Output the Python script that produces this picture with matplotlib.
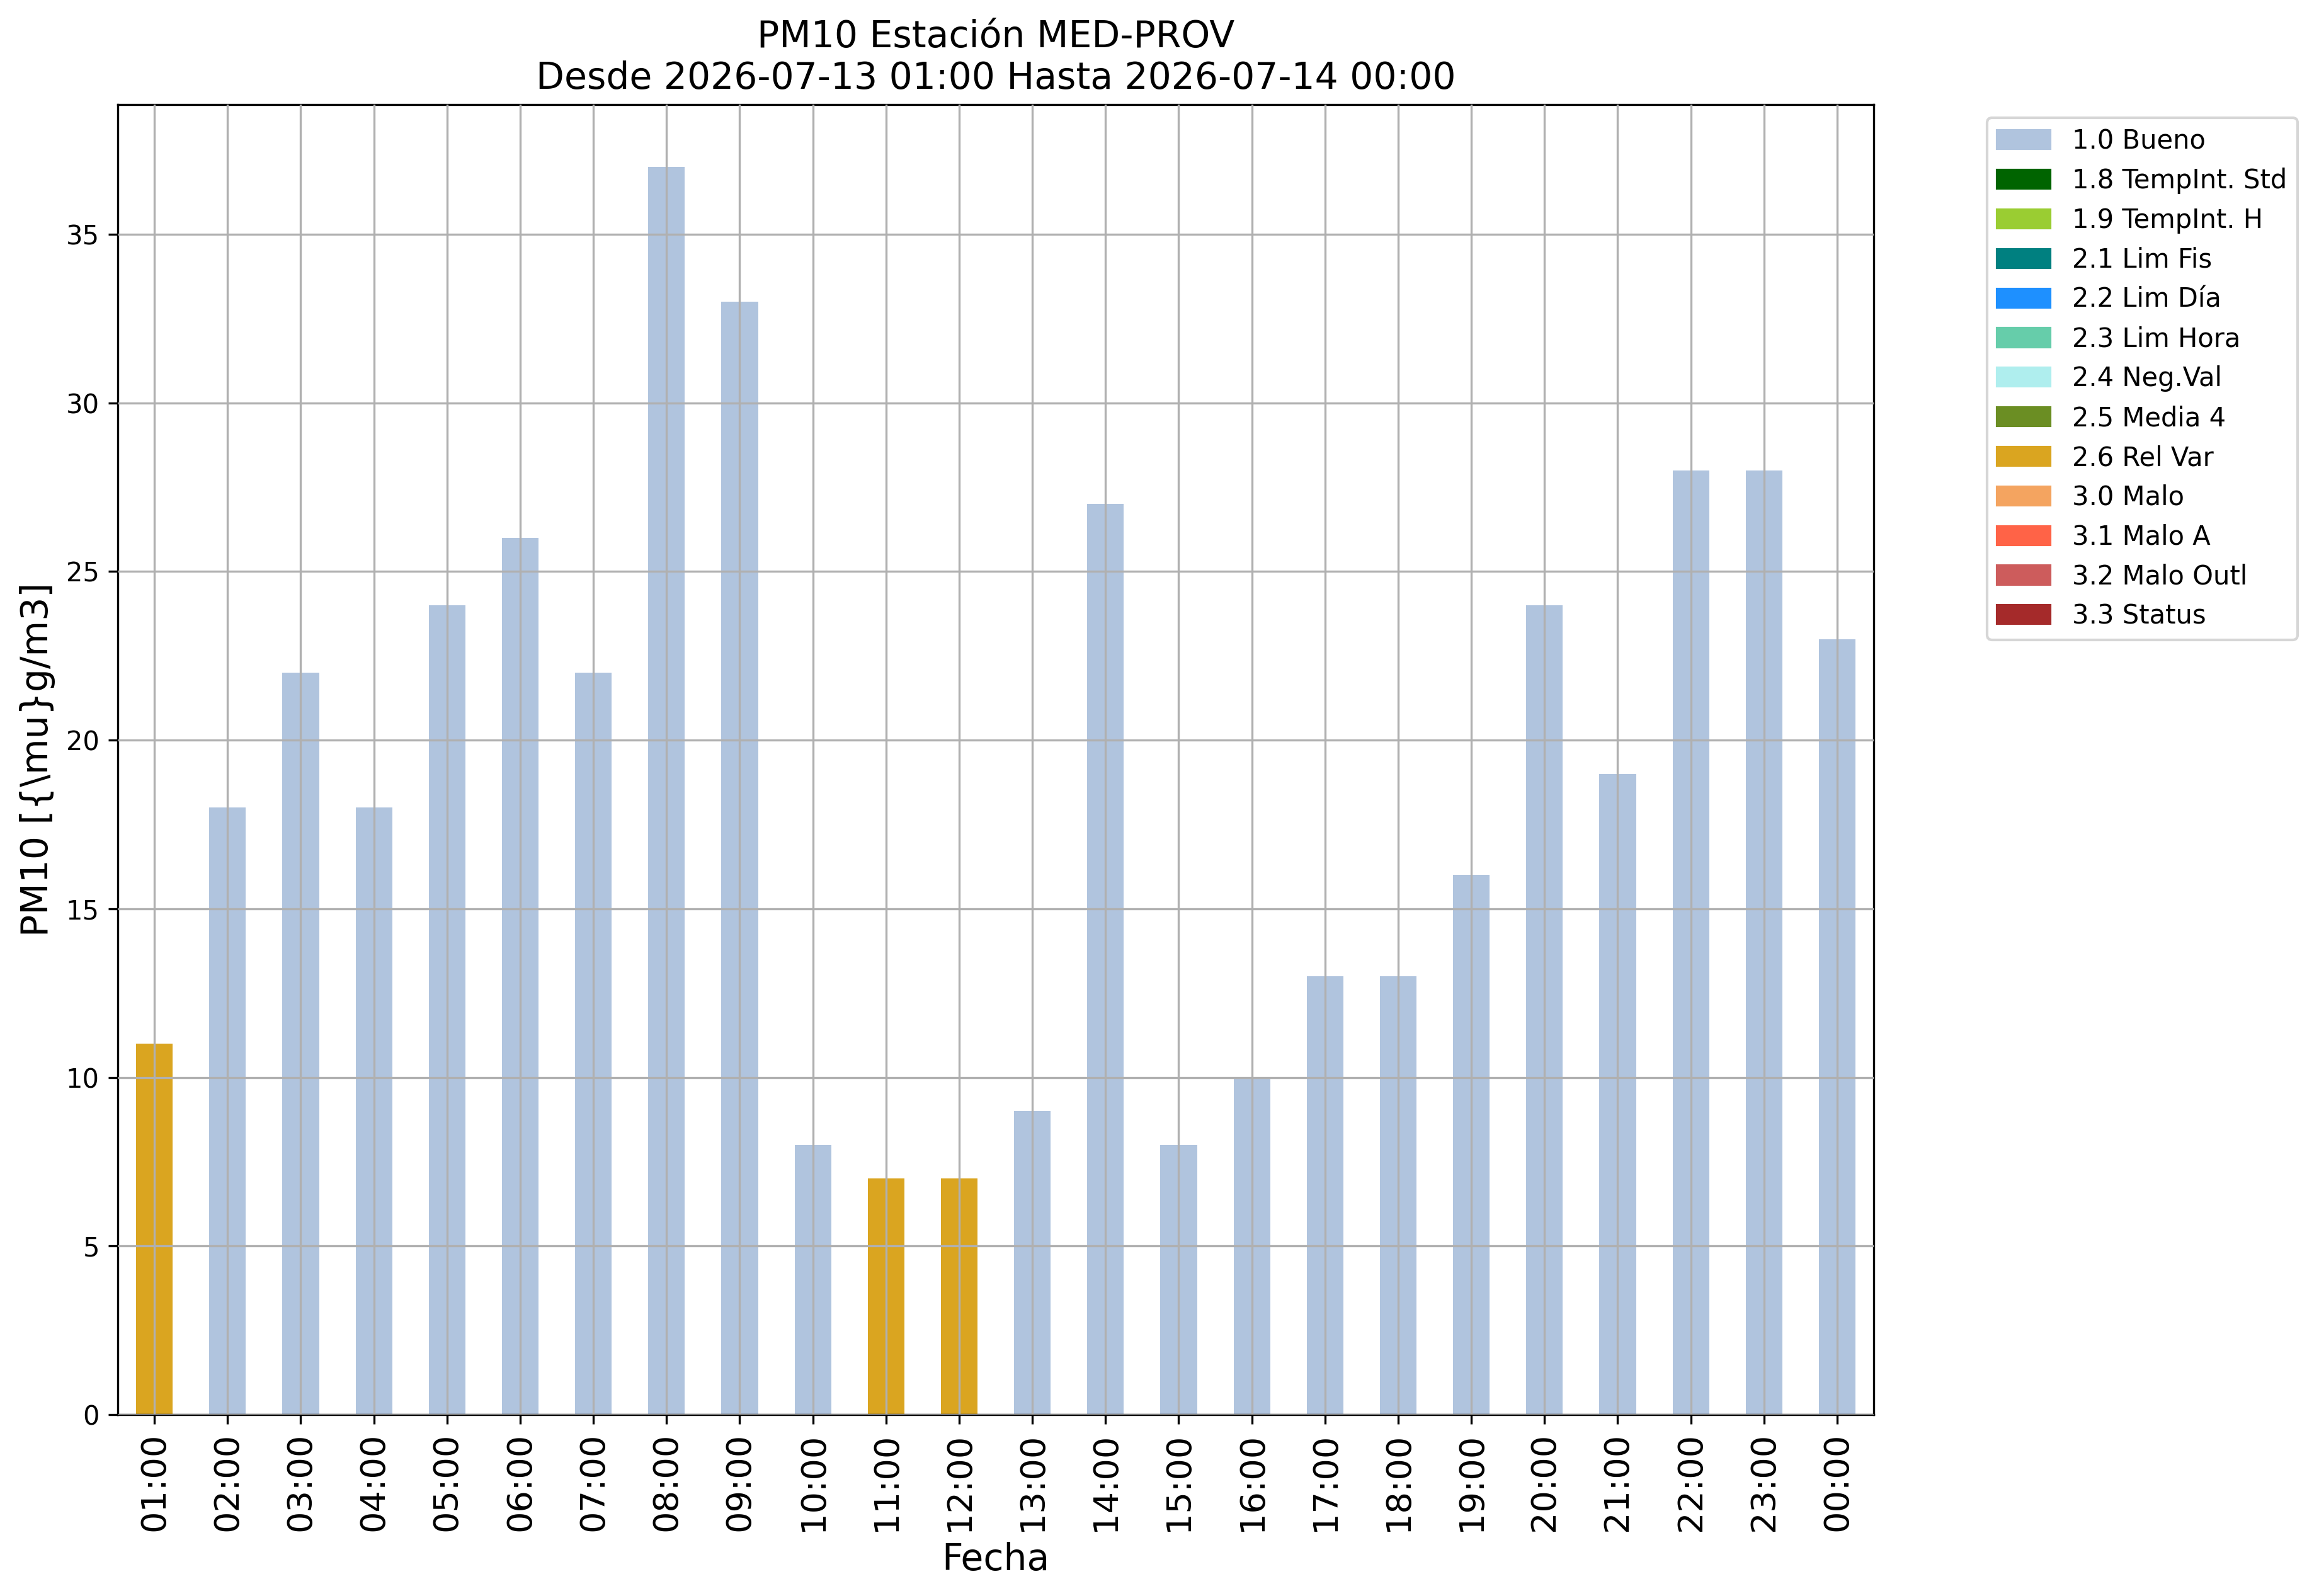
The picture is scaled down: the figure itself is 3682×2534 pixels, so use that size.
import numpy as np
import matplotlib
matplotlib.use('Agg')
import matplotlib.pyplot as plt
from matplotlib.patches import Patch

# hourly data
horas = ['01:00', '02:00', '03:00', '04:00', '05:00', '06:00', '07:00', '08:00',
         '09:00', '10:00', '11:00', '12:00', '13:00', '14:00', '15:00', '16:00',
         '17:00', '18:00', '19:00', '20:00', '21:00', '22:00', '23:00', '00:00']
valores = [11, 18, 22, 18, 24, 26, 22, 37, 33, 8, 7, 7, 9, 27, 8, 10,
           13, 13, 16, 24, 19, 28, 28, 23]
flags = ['2.6 Rel Var', '1.0 Bueno', '1.0 Bueno', '1.0 Bueno', '1.0 Bueno', '1.0 Bueno',
         '1.0 Bueno', '1.0 Bueno', '1.0 Bueno', '1.0 Bueno', '2.6 Rel Var', '2.6 Rel Var',
         '1.0 Bueno', '1.0 Bueno', '1.0 Bueno', '1.0 Bueno', '1.0 Bueno', '1.0 Bueno',
         '1.0 Bueno', '1.0 Bueno', '1.0 Bueno', '1.0 Bueno', '1.0 Bueno', '1.0 Bueno']

# flag categories and colours
categorias = ['1.0 Bueno', '1.8 TempInt. Std', '1.9 TempInt. H', '2.1 Lim Fis',
              '2.2 Lim Día', '2.3 Lim Hora', '2.4 Neg.Val', '2.5 Media 4',
              '2.6 Rel Var', '3.0 Malo', '3.1 Malo A', '3.2 Malo Outl', '3.3 Status']
colores = ['lightsteelblue', 'darkgreen', 'yellowgreen', 'teal',
           'dodgerblue', 'mediumaquamarine', 'paleturquoise', 'olivedrab',
           'goldenrod', 'sandybrown', 'tomato', 'indianred', 'brown']

titulo = 'PM10 Estación MED-PROV\nDesde 2026-07-13 01:00 Hasta 2026-07-14 00:00'

color_de = dict(zip(categorias, colores))

fig = plt.figure(figsize=(3682 / 300, 2534 / 300), dpi=300)
ax = fig.add_axes([0.0508, 0.1137, 0.808 - 0.0508, 0.9345 - 0.1137])

x = np.arange(len(horas))
ax.bar(x, valores, width=0.5, color=[color_de[f] for f in flags])
ax.set_xlim(-0.5, len(horas) - 0.5)
ax.set_xticks(x)
ax.set_xticklabels(horas, rotation=90, fontsize=13)
ax.tick_params(axis='y', labelsize=10)

# grid drawn over the bars, like the original
ax.grid(True)
ax.set_axisbelow(False)

ax.set_title(titulo, fontsize=14)
ax.set_xlabel('Fecha', fontsize=14)
ax.set_ylabel('PM10 [{\\mu}g/m3]', fontsize=14)

handles = [Patch(color=c, label=l) for l, c in zip(categorias, colores)]
ax.legend(handles=handles, bbox_to_anchor=(1.057, 1), loc='upper left',
          fontsize=10, handletextpad=0.85)

fig.savefig('out.png', dpi=300)
